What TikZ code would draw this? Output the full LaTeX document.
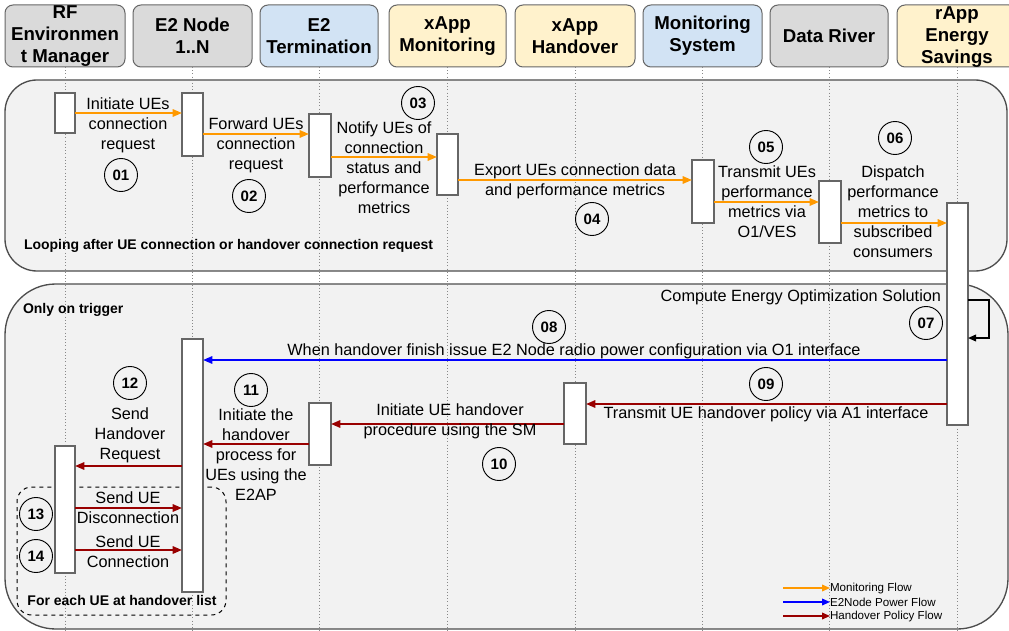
\documentclass[tikz,border=0pt]{standalone}
\usepackage{fontspec}
\setmainfont{Liberation Sans}
\usetikzlibrary{arrows.meta,fit}
\definecolor{hgray}{HTML}{DADADA}
\definecolor{hblue}{HTML}{D2E3F4}
\definecolor{hyellow}{HTML}{FFF2CC}
\definecolor{bordergray}{HTML}{666666}
\definecolor{framedraw}{HTML}{4D4D4D}
\definecolor{framefill}{HTML}{F2F2F2}
\definecolor{lifegray}{HTML}{888888}
\definecolor{oflow}{HTML}{FF9900}
\definecolor{bflow}{HTML}{0000FF}
\definecolor{rflow}{HTML}{990000}
\begin{document}
\begin{tikzpicture}[x=0.75pt,y=-0.75pt,
  every node/.style={inner sep=0pt, outer sep=0pt},
  hdr/.style={draw=bordergray, line width=0.75pt, rounded corners=6pt},
  hdrtxt/.style={font=\fontsize{14}{16.3}\selectfont\bfseries, align=center},
  frame/.style={draw=framedraw, fill=framefill, line width=1pt},
  life/.style={draw=lifegray, line width=0.6pt, dash pattern=on 0.8pt off 1.6pt},
  act/.style={draw=bordergray, fill=white, line width=0.9pt},
  msg/.style={font=\fontsize{12.2}{15}\selectfont, align=center},
  note/.style={font=\fontsize{10.5}{12}\selectfont\bfseries},
  num/.style={circle, draw=black, line width=0.7pt, minimum size=24.75pt, font=\fontsize{11.3}{13}\selectfont\bfseries},
  flow/.style={line width=1.5pt, -{Triangle[length=7pt,width=5.5pt]}},
  oarr/.style={flow, draw=oflow},
  barr/.style={flow, draw=bflow},
  rarr/.style={flow, draw=rflow},
  legarr/.style={line width=1.1pt, -{Triangle[length=6pt,width=5pt]}},
  legtxt/.style={font=\fontsize{8.7}{10}\selectfont, anchor=west}
]
\clip (0,0) rectangle (1009,631);
\useasboundingbox (0,0) rectangle (1009,631);

% frames
\node[frame, rounded corners=24pt, fit={(5,80) (1007,271)}] (loopA) {};
\node[frame, rounded corners=38pt, fit={(5,284) (1008,629)}] (loopB) {};

% headers
\node[hdr, fill=hgray, fit={(5,5) (125,67)}] (hRF) {};
\node[hdr, fill=hgray, fit={(133,5) (252,67)}] (hE2N) {};
\node[hdr, fill=hblue, fit={(260,5) (378,67)}] (hE2T) {};
\node[hdr, fill=hyellow, fit={(389,5) (506,67)}] (hXM) {};
\node[hdr, fill=hyellow, fit={(515,5) (635,67)}] (hXH) {};
\node[hdr, fill=hblue, fit={(643,5) (762,67)}] (hMS) {};
\node[hdr, fill=hgray, fit={(770,5) (888,67)}] (hDR) {};
\node[hdr, fill=hyellow, fit={(897,5) (1017,67)}] (hRA) {};
\node[hdrtxt] (hRFt) at (hRF.center) {RF\\Environmen\\t Manager};
\node[hdrtxt] (hE2Nt) at (hE2N.center) {E2 Node\\1..N};
\node[hdrtxt] (hE2Tt) at (hE2T.center) {E2\\Termination};
\node[hdrtxt] (hXMt) at (hXM.center) {xApp\\Monitoring};
\node[hdrtxt] (hXHt) at (hXH.center) {xApp\\Handover};
\node[hdrtxt] (hMSt) at (hMS.center) {Monitoring\\System};
\node[hdrtxt] (hDRt) at (hDR.center) {Data River};
\node[hdrtxt] (hRAt) at (957,37) {rApp\\Energy\\Savings};

% lifelines
\foreach \h in {hRF,hE2N,hE2T,hXM,hXH,hMS,hDR}{
  \draw[life] (\h.south) -- (\h.south |- 0,631);
}
\draw[life] (hRAt |- hRA.south) -- (hRAt |- 0,631);

% dashed loop box
\node[draw=black, dashed, line width=0.75pt, rounded corners=11pt, fit={(17,487) (226,615)}] (loopC) {};

% activation boxes
\node[act, fit={(55,93) (75,133)}] (rf1) {};
\node[act, fit={(182,93) (203,156)}] (e2n1) {};
\node[act, fit={(309,114) (331,177)}] (e2t1) {};
\node[act, fit={(437,134) (458,195)}] (xm1) {};
\node[act, fit={(692,160) (714,223)}] (ms1) {};
\node[act, fit={(819,181) (841,243)}] (dr1) {};
\node[act, fit={(947,203) (968,425)}] (ra1) {};
\node[act, fit={(182,339) (203,592)}] (e2n2) {};
\node[act, fit={(564,383) (586,444)}] (xh1) {};
\node[act, fit={(309,403) (331,465)}] (e2t2) {};
\node[act, fit={(55,446) (75,573)}] (rf2) {};

% monitoring flow
\draw[oarr] (rf1.east |- 0,113) -- (e2n1.west |- 0,113);
\draw[oarr] (e2n1.east |- 0,134) -- (e2t1.west |- 0,134);
\draw[oarr] (e2t1.east |- 0,157) -- (xm1.west |- 0,157);
\draw[oarr] (xm1.east |- 0,180) -- (ms1.west |- 0,180);
\draw[oarr] (ms1.east |- 0,202) -- (dr1.west |- 0,202);
\draw[oarr] (dr1.east |- 0,223) -- (ra1.west |- 0,223);

% self call
\draw[line width=1.1pt, -{Triangle[length=6pt,width=5pt]}] (ra1.east |- 0,300) -- (989,300) |- (ra1.east |- 0,338);

% power / handover flows
\draw[barr] (ra1.west |- 0,360) -- (e2n2.east |- 0,360);
\draw[rarr] (ra1.west |- 0,404) -- (xh1.east |- 0,404);
\draw[rarr] (xh1.west |- 0,424) -- (e2t2.east |- 0,424);
\draw[rarr] (e2t2.west |- 0,444) -- (e2n2.east |- 0,444);
\draw[rarr] (e2n2.west |- 0,466) -- (rf2.east |- 0,466);
\draw[rarr] (rf2.east |- 0,508) -- (e2n2.west |- 0,508);
\draw[rarr] (rf2.east |- 0,550) -- (e2n2.west |- 0,550);

% message labels
\node[msg] (t01) at (128,125) {Initiate UEs\\connection\\request};
\node[msg] (t02) at (256,145) {Forward UEs\\connection\\request};
\node[msg] (t03) at (384,168) {Notify UEs of\\connection\\status and\\performance\\metrics};
\node[msg] (t04) at (575,181) {Export UEs connection data\\and performance metrics};
\node[msg] (t05) at (767,202) {Transmit UEs\\performance\\metrics via\\O1/VES};
\node[msg] (t06) at (893,212) {Dispatch\\performance\\metrics to\\subscribed\\consumers};
\node[msg, anchor=east] (t07) at (941,297) {Compute Energy Optimization Solution};
\node[msg] (t08) at (574,351) {When handover finish issue E2 Node radio power configuration via O1 interface};
\node[msg] (t09) at (766,414) {Transmit UE handover policy via A1 interface};
\node[msg] (t10) at (450,421) {Initiate UE handover\\procedure using the SM};
\node[msg] (t11) at (256,455) {Initiate the\\handover\\process for\\UEs using the\\E2AP};
\node[msg] (t12) at (130,435) {Send\\Handover\\Request};
\node[msg] (t13) at (128,508) {Send UE\\Disconnection};
\node[msg] (t14) at (128,552) {Send UE\\Connection};

% notes
\node[note, anchor=west] (nloop) at (24,246) {Looping after UE connection or handover connection request};
\node[note, anchor=west] (ntrig) at (23,310) {Only on trigger};
\node[note] (neach) at (122,600) {For each UE at handover list};

% step numbers
\node[num] (n01) at (121,175) {01};
\node[num] (n02) at (249,196) {02};
\node[num] (n03) at (418,103) {03};
\node[num] (n04) at (592,219) {04};
\node[num] (n05) at (766,147) {05};
\node[num] (n06) at (895,138) {06};
\node[num] (n07) at (926,323) {07};
\node[num] (n08) at (549,327) {08};
\node[num] (n09) at (766,384) {09};
\node[num] (n10) at (499,464) {10};
\node[num] (n11) at (251,390) {11};
\node[num] (n12) at (130,383) {12};
\node[num] (n13) at (36,514) {13};
\node[num] (n14) at (36,556) {14};

% legend
\node[legtxt] (lg1) at (830,588) {Monitoring Flow};
\node[legtxt] (lg2) at (830,602) {E2Node Power Flow};
\node[legtxt] (lg3) at (830,616) {Handover Policy Flow};
\coordinate (lgs1) at (783,588);
\coordinate (lgs2) at (783,602);
\coordinate (lgs3) at (783,616);
\draw[legarr, draw=oflow] (lgs1) -- (lg1.west);
\draw[legarr, draw=bflow] (lgs2) -- (lg2.west);
\draw[legarr, draw=rflow] (lgs3) -- (lg3.west);
\end{tikzpicture}
\end{document}
